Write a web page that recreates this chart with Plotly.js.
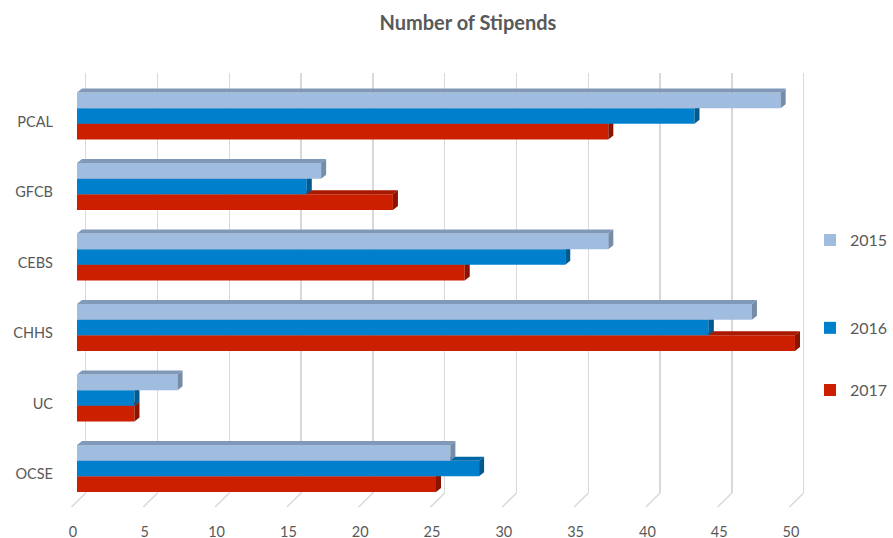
<!DOCTYPE html>
<html><head><meta charset="utf-8">
<script src="https://cdn.plot.ly/plotly-3.0.1.min.js"></script>
<style>html,body{margin:0;padding:0;background:#fff}#chart{width:893px;height:538px}</style>
</head><body><div id="chart"></div>
<script>
// ---- data ----
const categories = ['OCSE', 'UC', 'CHHS', 'CEBS', 'GFCB', 'PCAL'];
const years = ['2015', '2016', '2017'];
const values2015 = [26, 7, 47, 37, 17, 49];
const values2016 = [28, 4, 44, 34, 16, 43];
const values2017 = [25, 4, 50, 27, 22, 37];
const xTickValues = [0, 5, 10, 15, 20, 25, 30, 35, 40, 45, 50];
const xTickLabels = ['0', '5', '10', '15', '20', '25', '30', '35', '40', '45', '50'];

// ---- styles ----
const FONT = 'Lato, "Open Sans", sans-serif';
const GREY = '#595959';
const BAR_H = 0.222;      // bar thickness (category units)
const DX = 0.35;          // 3D depth along x (value units)
const DY = 0.057;         // 3D depth along y (category units)
const styles = {
  '2015': {vals: values2015, front: '#A0BDDF', top: '#8199B8', side: '#768DAA', offset: BAR_H, xa: 'x5', ya: 'y3', legend: 'legend'},
  '2016': {vals: values2016, front: '#0080CC', top: '#0068A7', side: '#005A90', offset: 0, xa: 'x4', ya: 'y2', legend: 'legend2'},
  '2017': {vals: values2017, front: '#CC1F00', top: '#A81900', side: '#8A1400', offset: -BAR_H, xa: 'x', ya: 'y', legend: 'legend3'}
};

const traces = [];
['2017', '2016', '2015'].forEach(function (yr) {
  const s = styles[yr];
  const yc = categories.map(function (c, i) { return i + s.offset; });
  traces.push({
    type: 'bar', orientation: 'h', name: yr, x: s.vals, y: yc, width: BAR_H,
    marker: {color: s.front, line: {width: 0}}, xaxis: s.xa, yaxis: s.ya,
    legend: s.legend, cliponaxis: false, hoverinfo: 'skip'
  });
  const tx = [], ty = [], sx = [], sy = [];
  s.vals.forEach(function (v, i) {
    const yt = yc[i] + BAR_H / 2, yb = yc[i] - BAR_H / 2;
    tx.push(0, v, v + DX, DX, 0, null);
    ty.push(yt, yt, yt + DY, yt + DY, yt, null);
    sx.push(v, v + DX, v + DX, v, v, null);
    sy.push(yt, yt + DY, yb + DY, yb, yt, null);
  });
  traces.push({type: 'scatter', mode: 'lines', x: tx, y: ty, fill: 'toself', fillcolor: s.top,
    line: {width: 0, color: s.top}, xaxis: s.xa, yaxis: s.ya, showlegend: false, hoverinfo: 'skip'});
  traces.push({type: 'scatter', mode: 'lines', x: sx, y: sy, fill: 'toself', fillcolor: s.side,
    line: {width: 0, color: s.side}, xaxis: s.xa, yaxis: s.ya, showlegend: false, hoverinfo: 'skip'});
});

const X_RANGE = [-1.184, 51.046];
const X_GRID_RANGE = [-1.790, 50.44];
const Y_RANGE = [-0.3475, 5.610];

// floor perspective lines at the foot of each gridline
const shapes = xTickValues.map(function (v) {
  return {type: 'line', xref: 'x2', yref: 'paper', x0: v, y0: 0, x1: v - 0.99, y1: -0.0333,
    line: {color: '#D9D9D9', width: 1.5}, layer: 'below'};
});

function legendAt(y) {
  return {x: 1.0, xanchor: 'left', y: y, yanchor: 'middle', bgcolor: 'rgba(0,0,0,0)',
    font: {family: FONT, size: 16, color: GREY}};
}

const hidden = {range: Y_RANGE, visible: false, fixedrange: true};
const layout = {
  width: 893, height: 538,
  margin: {l: 60, r: 83, t: 73, b: 45, autoexpand: false},
  paper_bgcolor: '#fff', plot_bgcolor: 'rgba(0,0,0,0)',
  hovermode: false, showlegend: true,
  font: {family: FONT, color: GREY},
  title: {text: '<b>Number of Stipends</b>', font: {family: FONT, size: 20, color: GREY},
    xref: 'container', x: 0.524, xanchor: 'center', yref: 'container', y: 0.957, yanchor: 'middle'},
  xaxis: {range: X_RANGE, tickvals: xTickValues, ticktext: xTickLabels, showgrid: false, zeroline: false,
    showline: false, ticks: '', tickfont: {family: FONT, size: 14.5, color: GREY},
    ticklabelshift: -4, ticklabelstandoff: 28, fixedrange: true, automargin: false},
  xaxis2: {overlaying: 'x', anchor: 'y', range: X_GRID_RANGE, tickvals: xTickValues, showgrid: true,
    gridcolor: '#D9D9D9', gridwidth: 1.5, showticklabels: false, zeroline: false, showline: false, ticks: ''},
  xaxis4: {overlaying: 'x', anchor: 'y2', range: X_RANGE, visible: false},
  xaxis5: {overlaying: 'x', anchor: 'y3', range: X_RANGE, visible: false},
  yaxis: {range: Y_RANGE, tickvals: categories.map(function (c, i) { return i - 0.08; }), ticktext: categories,
    showgrid: false, zeroline: false, showline: false, ticks: '', tickfont: {family: FONT, size: 14.5, color: GREY},
    ticklabelstandoff: 6, fixedrange: true, automargin: false},
  yaxis2: Object.assign({overlaying: 'y', anchor: 'x4'}, hidden),
  yaxis3: Object.assign({overlaying: 'y', anchor: 'x5'}, hidden),
  legend: legendAt(0.602),
  legend2: legendAt(0.393),
  legend3: legendAt(0.245),
  shapes: shapes
};

Plotly.newPlot('chart', traces, layout, {displayModeBar: false, staticPlot: true});
</script>
</body></html>
